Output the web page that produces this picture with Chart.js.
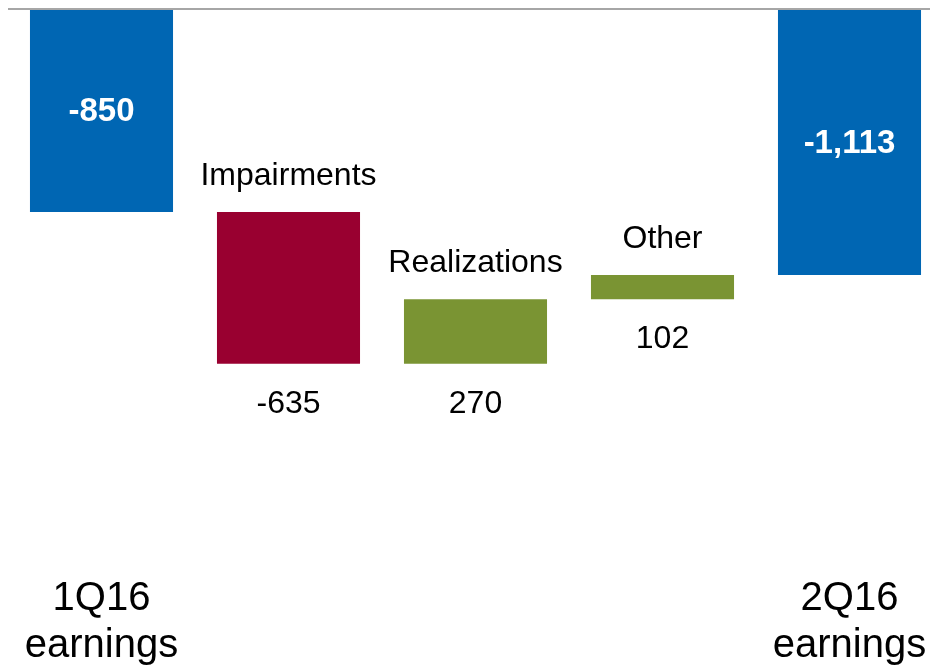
<!DOCTYPE html>
<html>
<head>
<meta charset="utf-8">
<title>Earnings bridge 1Q16 to 2Q16</title>
<script src="https://cdn.jsdelivr.net/npm/chart.js@4/dist/chart.umd.min.js"></script>
<style>
  html, body { margin: 0; padding: 0; background: #fff; overflow: hidden; }
  #wrap { width: 950px; height: 667px; }
</style>
</head>
<body>
<div id="wrap"><canvas id="bridgeChart"></canvas></div>
<script>
// Bridge steps, in order
const categories = ['1Q16 earnings', 'Impairments', 'Realizations', 'Other', '2Q16 earnings'];
const amounts = [-850, -635, 270, 102, -1113];
const isTotal = [true, false, false, false, true];

const FONT = 'Arial, "Liberation Sans", Helvetica, sans-serif';
const BLUE = '#0066b3';
const RED = '#990030';
const GREEN = '#7a9433';

// floating ranges: totals start at zero, steps start where the previous bar ended
let running = 0;
const ranges = amounts.map((v, i) => {
    if (isTotal[i]) {
        running = v;
        return [0, v];
    }
    const r = [running, running + v];
    running += v;
    return r;
});
const colors = amounts.map((v, i) => isTotal[i] ? BLUE : (v < 0 ? RED : GREEN));

const fmt = v => v.toLocaleString('en-US');

// value and step-name labels
const bridgeLabels = {
    id: 'bridgeLabels',
    afterDatasetsDraw(chart) {
        const ctx = chart.ctx;
        const meta = chart.getDatasetMeta(0);
        ctx.save();
        ctx.textAlign = 'center';
        ctx.textBaseline = 'middle';
        meta.data.forEach((bar, i) => {
            const top = Math.min(bar.y, bar.base);
            const bottom = Math.max(bar.y, bar.base);
            if (isTotal[i]) {
                ctx.fillStyle = '#fff';
                ctx.font = 'bold 33px ' + FONT;
                ctx.fillText(fmt(amounts[i]), bar.x, (top + bottom) / 2 + 1);
            } else {
                ctx.fillStyle = '#000';
                ctx.font = '32px ' + FONT;
                ctx.fillText(categories[i], bar.x, top - 36);
                ctx.fillText(fmt(amounts[i]), bar.x, bottom + 40);
            }
        });
        ctx.restore();
    }
};

new Chart(document.getElementById('bridgeChart'), {
    type: 'bar',
    data: {
        labels: categories,
        datasets: [{
            data: ranges,
            backgroundColor: colors,
            borderWidth: 0,
            borderSkipped: false,
            barPercentage: 1,
            categoryPercentage: 0.765
        }]
    },
    options: {
        responsive: true,
        maintainAspectRatio: false,
        animation: false,
        layout: { padding: { left: 8, right: 7, top: 9, bottom: 0 } },
        plugins: {
            legend: { display: false },
            tooltip: { enabled: false }
        },
        scales: {
            x: {
                grid: { display: false },
                border: { display: false },
                ticks: {
                    color: '#000',
                    font: { family: FONT, size: 40, lineHeight: 1.17 },
                    padding: 9,
                    maxRotation: 0,
                    autoSkip: false,
                    callback: (v, i) => isTotal[i] ? categories[i].split(' ') : ''
                },
                afterFit(scale) { scale.height = 108.5; }
            },
            y: {
                min: -2300,
                max: 0,
                border: { display: false },
                ticks: { display: false },
                grid: {
                    drawTicks: false,
                    lineWidth: 2,
                    color: c => c.tick.value === 0 ? '#a6a6a6' : 'rgba(0,0,0,0)'
                },
                afterFit(scale) { scale.width = 0; }
            }
        }
    },
    plugins: [bridgeLabels]
});
</script>
</body>
</html>
